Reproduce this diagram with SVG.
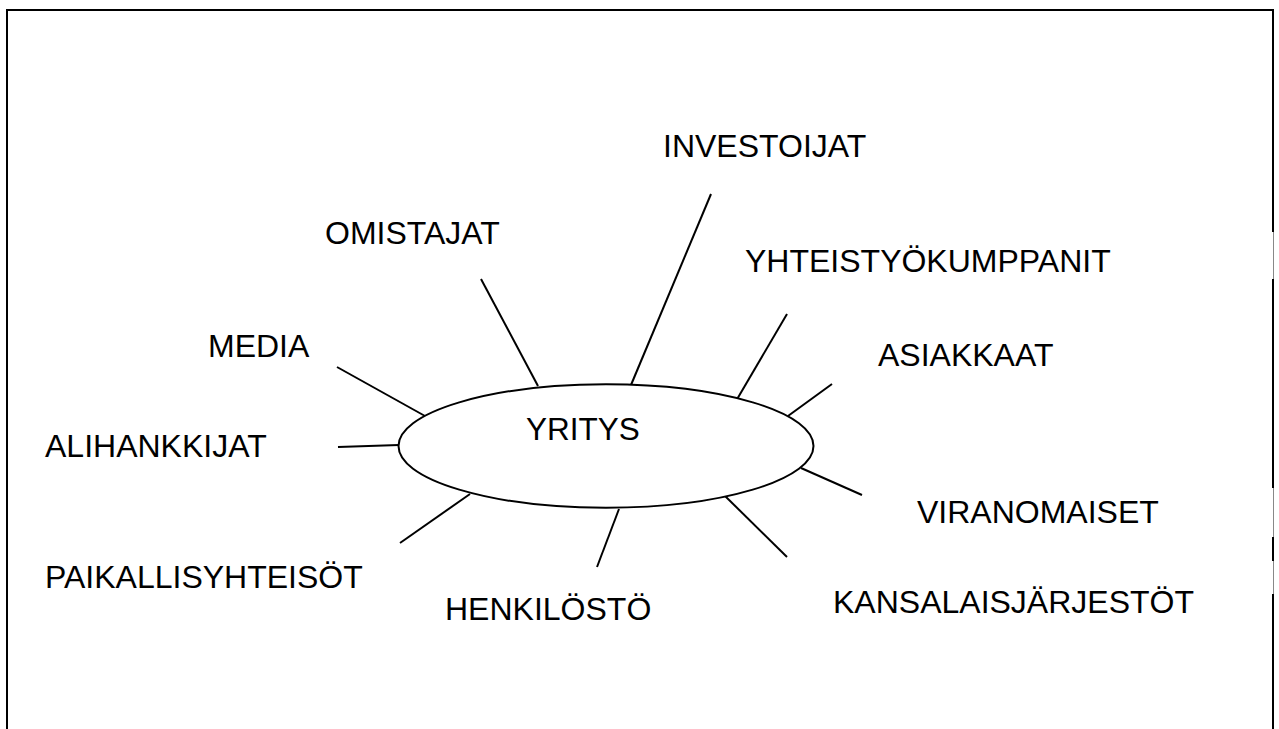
<svg xmlns="http://www.w3.org/2000/svg" width="1279" height="729" viewBox="0 0 1279 729">
  <style>
    .frame { stroke: #000; stroke-width: 2; fill: none; }
    .frame-thin { stroke: #888; stroke-width: 1; fill: none; }
    .spoke { stroke: #000; stroke-width: 2; fill: none; }
    .hub { stroke: #000; stroke-width: 2; fill: #fff; }
    text { font-family: "Liberation Sans", Arial, sans-serif; font-size: 32px; fill: #000; }
  </style>
  <rect width="1279" height="729" fill="#fff"/>

  <!-- page frame (right edge partly faded) -->
  <g id="frame">
    <line class="frame" x1="6" y1="10" x2="1274" y2="10"/>
    <line class="frame" x1="7" y1="9" x2="7" y2="729"/>
    <line class="frame-thin" x1="1273.5" y1="10" x2="1273.5" y2="729"/>
    <line class="frame" x1="1273" y1="9" x2="1273" y2="232"/>
    <line class="frame" x1="1273" y1="279" x2="1273" y2="488"/>
    <line class="frame" x1="1273" y1="537" x2="1273" y2="561"/>
    <line class="frame" x1="1273" y1="594" x2="1273" y2="729"/>
  </g>

  <!-- spokes from the company to each stakeholder -->
  <g id="connectors">
    <line class="spoke" x1="711" y1="194" x2="631" y2="385"/>
    <line class="spoke" x1="481" y1="279" x2="538" y2="386"/>
    <line class="spoke" x1="787" y1="314" x2="736" y2="401"/>
    <line class="spoke" x1="832" y1="384" x2="788" y2="416"/>
    <line class="spoke" x1="337" y1="367" x2="425" y2="416"/>
    <line class="spoke" x1="338" y1="447" x2="399" y2="445"/>
    <line class="spoke" x1="862" y1="495" x2="801" y2="468"/>
    <line class="spoke" x1="400" y1="543" x2="470" y2="494"/>
    <line class="spoke" x1="597" y1="567" x2="619" y2="509"/>
    <line class="spoke" x1="787" y1="557" x2="723" y2="494"/>
  </g>

  <g id="yritys">
    <ellipse class="hub" cx="606" cy="446" rx="207.5" ry="61.7"/>
    <text x="526" y="440" style="font-size:31.5px">YRITYS</text>
  </g>
  <g id="investoijat"><text x="663" y="157">INVESTOIJAT</text></g>
  <g id="omistajat"><text x="325" y="244">OMISTAJAT</text></g>
  <g id="yhteistyokumppanit"><text x="745" y="272">YHTEISTYÖKUMPPANIT</text></g>
  <g id="asiakkaat"><text x="878" y="366">ASIAKKAAT</text></g>
  <g id="media"><text x="208" y="357">MEDIA</text></g>
  <g id="alihankkijat"><text x="45" y="457">ALIHANKKIJAT</text></g>
  <g id="viranomaiset"><text x="917" y="523">VIRANOMAISET</text></g>
  <g id="paikallisyhteisot"><text x="45" y="588">PAIKALLISYHTEISÖT</text></g>
  <g id="henkilosto"><text x="445" y="620">HENKILÖSTÖ</text></g>
  <g id="kansalaisjarjestot"><text x="833" y="613">KANSALAISJÄRJESTÖT</text></g>
</svg>
